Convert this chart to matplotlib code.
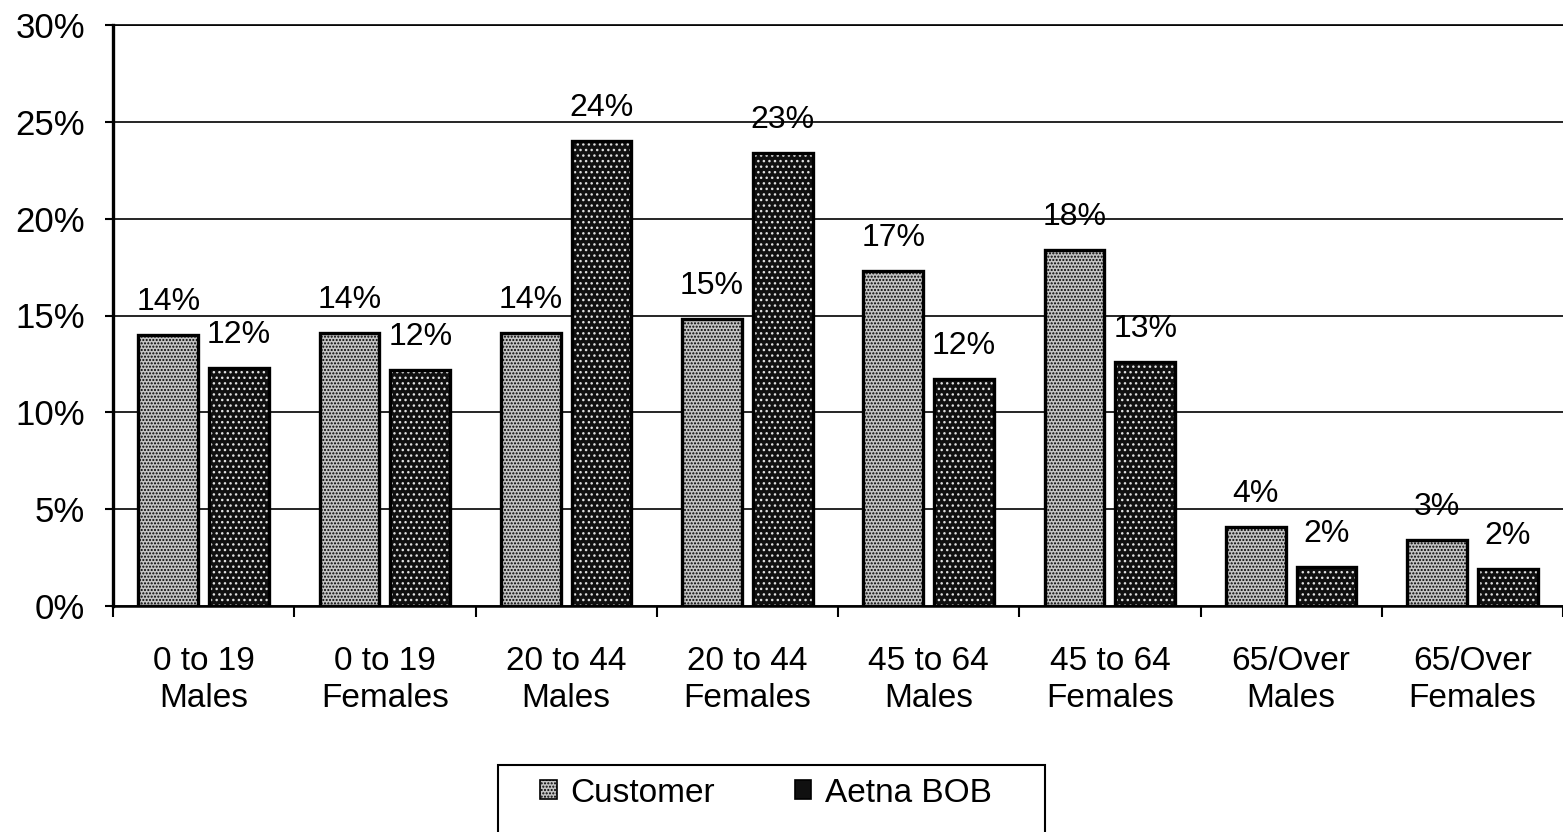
import matplotlib
matplotlib.use('Agg')
import matplotlib.pyplot as plt
from matplotlib.patches import Patch, Rectangle
from matplotlib.ticker import FuncFormatter
import numpy as np

categories = ['0 to 19\nMales', '0 to 19\nFemales', '20 to 44\nMales', '20 to 44\nFemales',
              '45 to 64\nMales', '45 to 64\nFemales', '65/Over\nMales', '65/Over\nFemales']
customer = [14.0, 14.1, 14.1, 14.8, 17.3, 18.4, 4.1, 3.4]
aetna_bob = [12.3, 12.2, 24.0, 23.4, 11.7, 12.6, 2.0, 1.9]
series_names = ['Customer', 'Aetna BOB']

plt.rcParams['font.family'] = ['Liberation Sans', 'DejaVu Sans']
plt.rcParams['hatch.linewidth'] = 1.0

W, H = 1563, 832
fig = plt.figure(figsize=(W / 100, H / 100), dpi=100)
ax = fig.add_axes([113 / W, 1 - 606 / H, 1 - 113 / W, (606 - 25) / H])

x = np.arange(len(categories))
width = 0.33
off = 0.195

# stippled fill first, then the black outline on top
ax.bar(x - off, customer, width, color='#c4c4c4', edgecolor='black', hatch='.....', linewidth=0, zorder=2)
ax.bar(x + off, aetna_bob, width, color='#101010', edgecolor='#e0e0e0', hatch='...', linewidth=0, zorder=2)
ax.bar(x - off, customer, width, fill=False, edgecolor='black', linewidth=2.4, zorder=3)
ax.bar(x + off, aetna_bob, width, fill=False, edgecolor='black', linewidth=2.4, zorder=3)

for xs, vals in ((x - off, customer), (x + off, aetna_bob)):
    for xi, v in zip(xs, vals):
        ax.annotate(f'{v:.0f}%', (xi, v), xytext=(0, 13), textcoords='offset points',
                    ha='center', va='bottom', fontsize=23, zorder=4)

ax.set_xlim(-0.5, len(categories) - 0.5)
ax.set_ylim(0, 30)
ax.set_yticks(range(0, 31, 5))
ax.yaxis.set_major_formatter(FuncFormatter(lambda v, p: f'{v:.0f}%'))
ax.tick_params(axis='y', labelsize=25, length=6, width=1.5, pad=14)

ax.set_xticks(x)
ax.set_xticklabels(categories, fontsize=24, linespacing=1.25)
ax.set_xticks(np.arange(-0.5, len(categories), 1), minor=True)
ax.tick_params(axis='x', which='major', length=0, pad=29)
ax.tick_params(axis='x', which='minor', length=8, width=1.5, direction='out')

ax.yaxis.grid(True, color='black', linewidth=1.2)
ax.set_axisbelow(True)
ax.spines['right'].set_visible(False)
ax.spines['left'].set_linewidth(2.4)
ax.spines['bottom'].set_linewidth(1.8)
ax.spines['top'].set_linewidth(1.2)

handles = [Patch(facecolor='#c4c4c4', edgecolor='black', hatch='.....', linewidth=1.2),
           Patch(facecolor='#101010', edgecolor='black', linewidth=1.2)]
fig.legend(handles, series_names, loc='center left', bbox_to_anchor=(540 / W, 1 - 793 / H),
           ncol=2, frameon=False, fontsize=24, borderpad=0, borderaxespad=0,
           handlelength=0.5, handleheight=0.5, handletextpad=0.4, columnspacing=2.4)
fig.add_artist(Rectangle((498 / W, 1 - 845 / H), (1045 - 498) / W, (845 - 765) / H,
                         transform=fig.transFigure, fill=False, edgecolor='black', linewidth=1.5))

fig.savefig('out.png', dpi=100)
